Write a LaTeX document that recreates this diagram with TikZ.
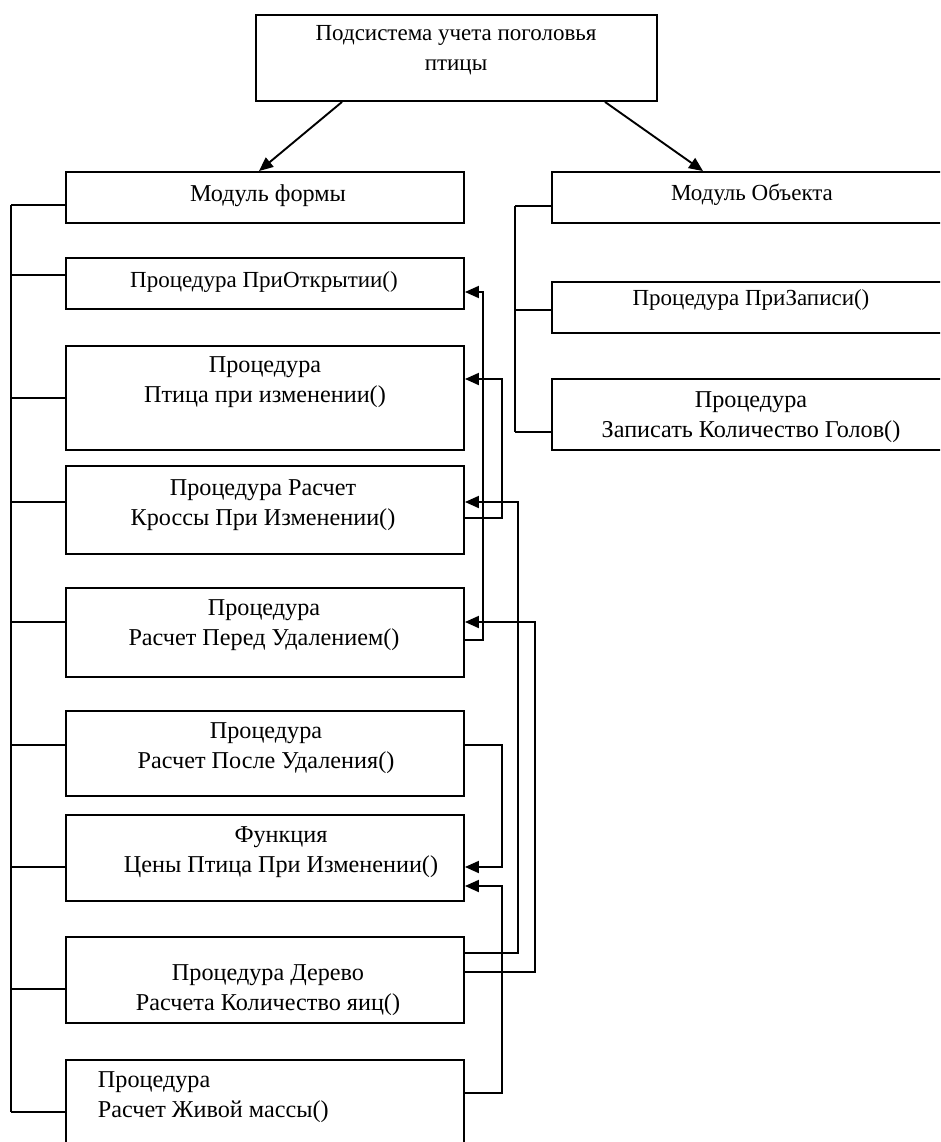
\documentclass[tikz,border=0pt]{standalone}
\usepackage{fontspec}
\setmainfont{Liberation Serif}
\usetikzlibrary{arrows.meta,calc}
\tikzset{>/.tip={Triangle[length=14pt,width=12pt]}}
\tikzset{blk/.style={draw,line width=1.9pt,inner sep=0pt,minimum width=398pt}}
\tikzset{txt/.style={font=\fontsize{24.2}{29.5}\selectfont,align=center,inner sep=0pt}}
\tikzset{sml/.style={txt,font=\fontsize{23}{30}\selectfont}}

\begin{document}
\begin{tikzpicture}[x=1pt,y=-1pt,line width=1.9pt]
\useasboundingbox (0,0) rectangle (940,1142);
\clip (0,0) rectangle (940,1142);
\node[blk,minimum width=401pt,minimum height=86pt](sys) at (456.5,58){};
\node[blk,minimum height=51pt](form) at (265,197.5){};
\node[blk,minimum height=51pt](open) at (265,283.5){};
\node[blk,minimum height=104pt](bird) at (265,398){};
\node[blk,minimum height=88pt](cross) at (265,510){};
\node[blk,minimum height=89pt](before) at (265,632.5){};
\node[blk,minimum height=85pt](after) at (265,753.5){};
\node[blk,minimum height=86pt](price) at (265,858){};
\node[blk,minimum height=86pt](tree) at (265,980){};
\node[blk,minimum height=90pt](mass) at (265,1105){};
\node[blk,minimum height=51pt](obj) at (751,197.5){};
\node[blk,minimum height=51pt](write) at (751,307.5){};
\node[blk,minimum height=71pt](heads) at (751,414.5){};

\node[sml](tsys) at (456,50){Подсистема учета поголовья\\птицы};
\node[txt](tform) at (268,196){Модуль формы};
\node[sml](topen) at (264,282){Процедура ПриОткрытии()};
\node[txt](tbird) at (265,382){Процедура\\Птица при изменении()};
\node[txt](tcross) at (263,505){Процедура Расчет\\Кроссы При Изменении()};
\node[txt](tbefore) at (264,625){Процедура\\Расчет Перед Удалением()};
\node[txt](tafter) at (266,748){Процедура\\Расчет После Удаления()};
\node[txt](tprice) at (281,852){Функция\\Цены Птица При Изменении()};
\node[txt](ttree) at (268,990){Процедура Дерево\\Расчета Количество яиц()};
\node[txt,align=left,anchor=west](tmass) at (97,1097){Процедура\\Расчет Живой массы()};
\node[sml](tobj) at (752,195){Модуль Объекта};
\node[sml](twrite) at (751,300){Процедура ПриЗаписи()};
\node[txt](theads) at (751,417){Процедура\\Записать Количество Голов()};

\draw[->] ($(sys.south)+(-114.5,0)$) -- ($(form.north)+(-6,0)$);
\draw[->] ($(sys.south)+(148.5,0)$) -- ($(obj.north)+(-48,0)$);

\foreach \n/\d in {form/7.5,open/-8.5,bird/0,cross/-8,before/-10.5,after/-8.5,price/9,tree/9,mass/7}
  \draw ($(\n.west)+(0,\d)$) -- ++(-54,0);
\draw ($(form.west)+(-54,7.5)$) -- ($(mass.west)+(-54,7)$);

\foreach \n/\d in {obj/8.5,write/2.5,heads/17.5}
  \draw ($(\n.west)+(0,\d)$) -- ++(-36,0);
\draw ($(obj.west)+(-36,8.5)$) -- ($(heads.west)+(-36,17.5)$);

\draw[->] ($(before.east)+(0,7.5)$) -- ++(18,0) |- ($(open.east)+(0,8.5)$);
\draw[->] ($(cross.east)+(0,8)$) -- ++(37,0) |- ($(bird.east)+(0,-19)$);
\draw[->] ($(tree.east)+(0,-27)$) -- ++(53,0) |- ($(cross.east)+(0,-8)$);
\draw[->] ($(tree.east)+(0,-8)$) -- ++(70,0) |- ($(before.east)+(0,-10.5)$);
\draw[->] ($(after.east)+(0,-8.5)$) -- ++(37,0) |- ($(price.east)+(0,9)$);
\draw[->] ($(mass.east)+(0,-12)$) -- ++(37,0) |- ($(price.east)+(0,28)$);
\end{tikzpicture}
\end{document}
